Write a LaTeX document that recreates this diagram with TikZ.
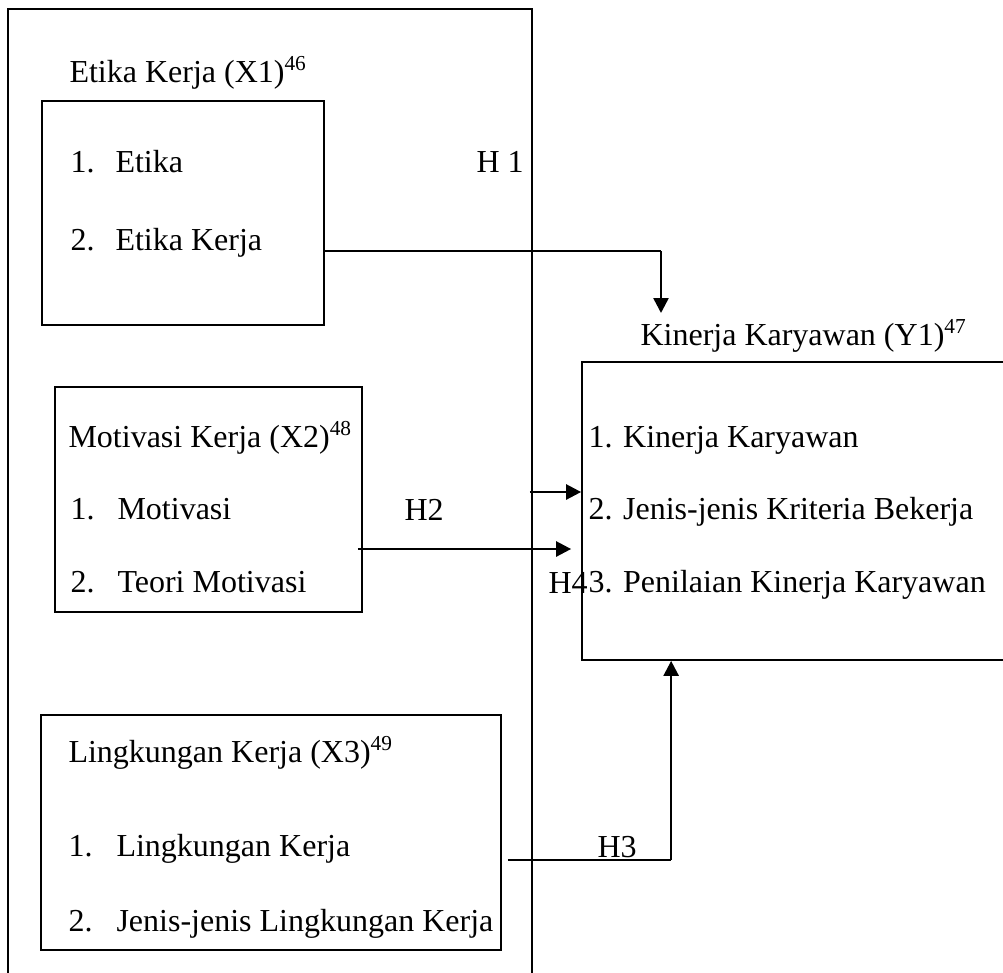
\documentclass[tikz,border=0pt]{standalone}
\usepackage{fontspec}
\setmainfont{Liberation Serif}
\usetikzlibrary{arrows.meta,fit,calc}

\begin{document}
\begin{tikzpicture}[
  x=0.375pt,y=-0.375pt,
  font=\fontsize{12}{14}\selectfont,
  frame/.style={draw,line width=0.65pt,inner sep=0pt},
  txt/.style={anchor=base west,inner sep=0pt},
  link/.style={line width=0.65pt},
  arr/.style={-{Triangle[length=5.6pt,width=5.6pt]},line width=0.95pt}]
\path[use as bounding box] (0,0) rectangle (1003,972);
\clip (0,0) rectangle (1003,972);
% boxes
\node[frame,fit={(8,9) (532,1010)}]   (outer) {};
\node[frame,fit={(42,101) (324,325)}] (x1)    {};
\node[frame,fit={(55,387) (362,612)}] (x2)    {};
\node[frame,fit={(41,715) (501,950)}] (x3)    {};
\node[frame,fit={(582,362) (1030,660)}] (y1)  {};
% texts
\node[txt] (t1)  at (69,82)   {Etika Kerja (X1)\textsuperscript{46}};
\node[txt] (t1a) at (70,172)  {1.};
\node[txt] (t1b) at (115,172) {Etika};
\node[txt] (t1c) at (70,250)  {2.};
\node[txt] (t1d) at (115,250) {Etika Kerja};
\node[txt] (h1)  at (476,172) {H 1};
\node[txt] (ty)  at (640,345) {Kinerja Karyawan (Y1)\textsuperscript{47}};
\node[txt] (t2)  at (68,447)  {Motivasi Kerja (X2)\textsuperscript{48}};
\node[txt] (t2a) at (70,519)  {1.};
\node[txt] (t2b) at (117,519) {Motivasi};
\node[txt] (t2c) at (70,592)  {2.};
\node[txt] (t2d) at (117,592) {Teori Motivasi};
\node[txt] (h2)  at (404,520) {H2};
\node[txt] (h4)  at (548,593) {H4};
\node[txt] (ya)  at (588,447) {1. Kinerja Karyawan};
\node[txt] (yb)  at (588,519) {2. Jenis-jenis Kriteria Bekerja};
\node[txt] (yc)  at (588,592) {3. Penilaian Kinerja Karyawan};
\node[txt] (t3)  at (68,762)  {Lingkungan Kerja (X3)\textsuperscript{49}};
\node[txt] (t3a) at (68,856)  {1.};
\node[txt] (t3b) at (116,856) {Lingkungan Kerja};
\node[txt] (t3c) at (68,931)  {2.};
\node[txt] (t3d) at (116,931) {Jenis-jenis Lingkungan Kerja};
\node[txt] (h3)  at (597,857) {H3};
% connectors
\coordinate (k1) at (661,251);
\coordinate (e1) at (661,313);
\coordinate (k4) at ($(y1.south west)+(90,199)$);
\coordinate (e4) at ($(y1.south west)+(90,0)$);
\draw[link] (x1.east |- k1) -- (k1);
\draw[arr] (k1) -- (e1);
\draw[arr] ($(outer.east |- 0,492)+(-3,0)$) -- (y1.west |- 0,492);
\draw[arr] ($(x2.east |- 0,549)+(-5,0)$) -- ($(y1.west |- 0,549)+(-10,0)$);
\draw[link] ($(x3.east |- k4)+(6,0)$) -- (k4);
\draw[arr] (k4) -- (e4);
\end{tikzpicture}
\end{document}
